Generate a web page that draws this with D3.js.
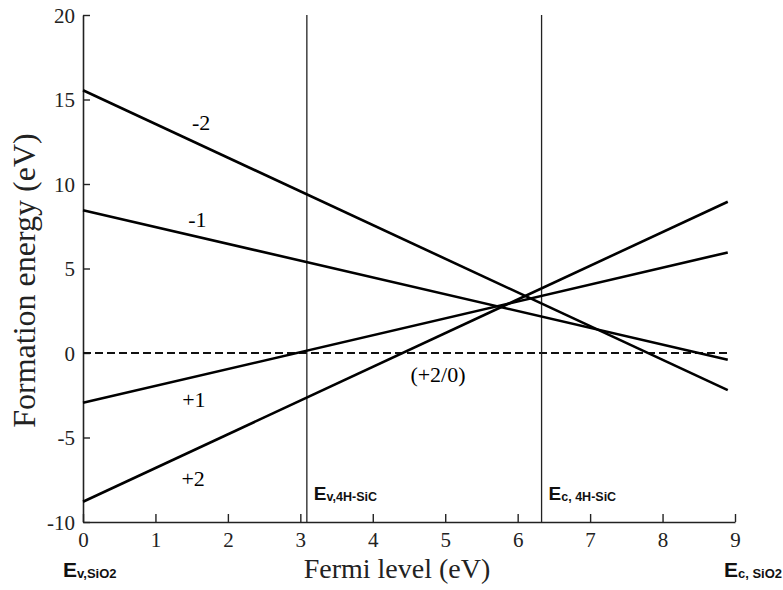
<!DOCTYPE html>
<html>
<head>
<meta charset="utf-8">
<script src="https://cdn.jsdelivr.net/npm/d3@7"></script>
<style>
  body { margin: 0; background: #fff; }
  svg { display: block; }
</style>
</head>
<body>
<div id="chart"></div>
<script>
const SERIF = '"Liberation Serif", "Times New Roman", serif';
const SANS = '"Liberation Sans", Arial, sans-serif';

// Fermi level range of the lines (Ev,SiO2 .. Ec,SiO2)
const fermiEnds = [0, 8.9];
// charge states and formation energy at the two ends
const chargeLabels = ['-2', '-1', '+1', '+2'];
const energyStart = [15.55, 8.45, -2.95, -8.8];
const energyEnd = [-2.2, -0.4, 5.95, 8.95];
// where the charge labels sit (Fermi level, energy)
const labelX = [1.63, 1.58, 1.53, 1.52];
const labelY = [13.2, 7.45, -3.2, -7.87];

// 4H-SiC band edges
const edgeX = [3.09, 6.33];
const edgeMain = ['E', 'E'];
const edgeSub = ['v,4H-SiC', 'c, 4H-SiC'];

const xTicks = [0, 1, 2, 3, 4, 5, 6, 7, 8, 9];
const yTicks = [-10, -5, 0, 5, 10, 15, 20];

const W = 783, H = 590;
const margin = { top: 15, right: 48, bottom: 68, left: 83 };
const width = W - margin.left - margin.right;
const height = H - margin.top - margin.bottom;

const svg = d3.select('#chart').append('svg')
  .attr('width', W)
  .attr('height', H);

const g = svg.append('g')
  .attr('transform', `translate(${margin.left},${margin.top})`);

const x = d3.scaleLinear().domain([0, 9]).range([0, width]);
const y = d3.scaleLinear().domain([-10, 20]).range([height, 0]);

// axes with inward ticks, plain hyphen minus like the original
const xAxis = g.append('g')
  .attr('transform', `translate(0,${height})`)
  .call(d3.axisBottom(x).tickValues(xTicks).tickFormat(d => String(d)).tickSizeInner(-8).tickSizeOuter(0));
const yAxis = g.append('g')
  .call(d3.axisLeft(y).tickValues(yTicks).tickFormat(d => String(d)).tickSizeInner(-7).tickSizeOuter(0).tickPadding(8));

[xAxis, yAxis].forEach(a => {
  a.attr('font-family', null).attr('font-size', null);
  a.select('.domain').attr('stroke', '#222').attr('stroke-width', 1.6);
  a.selectAll('.tick line').attr('stroke', '#222').attr('stroke-width', 1.4);
  a.selectAll('.tick text')
    .style('font-family', SERIF)
    .style('font-size', '21px')
    .attr('fill', '#222');
});
xAxis.selectAll('.tick text').attr('y', 25).attr('dy', 0);
yAxis.selectAll('.tick text').attr('dy', '0.35em');

// zero line
g.append('line')
  .attr('x1', x(fermiEnds[0])).attr('x2', x(fermiEnds[1]))
  .attr('y1', y(0)).attr('y2', y(0))
  .attr('stroke', '#111')
  .attr('stroke-width', 2.2)
  .attr('stroke-dasharray', '8,4');

// band edge vertical lines
g.selectAll('.edge')
  .data(edgeX)
  .enter().append('line')
  .attr('x1', d => x(d)).attr('x2', d => x(d))
  .attr('y1', y(20)).attr('y2', y(-10))
  .attr('stroke', '#222')
  .attr('stroke-width', 1.3);

// formation energy lines
const line = d3.line().x(d => x(d[0])).y(d => y(d[1]));
g.selectAll('.charge')
  .data(chargeLabels.map((c, i) => [[fermiEnds[0], energyStart[i]], [fermiEnds[1], energyEnd[i]]]))
  .enter().append('path')
  .attr('d', line)
  .attr('fill', 'none')
  .attr('stroke', '#000')
  .attr('stroke-width', 2.6);

// charge labels
g.selectAll('.clabel')
  .data(chargeLabels)
  .enter().append('text')
  .attr('x', (d, i) => x(labelX[i]))
  .attr('y', (d, i) => y(labelY[i]))
  .attr('text-anchor', 'middle')
  .style('font-family', SERIF)
  .style('font-size', '22px')
  .text(d => d);

g.append('text')
  .attr('x', x(4.9))
  .attr('y', y(-1.72))
  .attr('text-anchor', 'middle')
  .style('font-family', SERIF)
  .style('font-size', '22px')
  .text('(+2/0)');

// band edge labels
edgeX.forEach((ex, i) => {
  const t = g.append('text')
    .attr('x', x(ex) + 7)
    .attr('y', y(-8.7))
    .style('font-family', SANS)
    .style('font-weight', 'bold')
    .attr('fill', '#111');
  t.append('tspan').style('font-size', '19px').text(edgeMain[i]);
  t.append('tspan').style('font-size', '12.5px').attr('dy', 1).text(edgeSub[i]);
});

const sio2 = [
  { x: x(0) - 20, anchor: 'start', sub: 'v,SiO2' },
  { x: W - margin.left - 1, anchor: 'end', sub: 'c, SiO2' }
];
sio2.forEach(s => {
  const t = g.append('text')
    .attr('x', s.x)
    .attr('y', height + 55)
    .attr('text-anchor', s.anchor)
    .style('font-family', SANS)
    .style('font-weight', 'bold')
    .attr('fill', '#111');
  t.append('tspan').style('font-size', '21px').text('E');
  t.append('tspan').style('font-size', '13px').attr('dy', 1).text(s.sub);
});

// axis titles
g.append('text')
  .attr('x', x(4.5) - 12)
  .attr('y', height + 56)
  .attr('text-anchor', 'middle')
  .style('font-family', SERIF)
  .style('font-size', '28px')
  .attr('fill', '#222')
  .text('Fermi level (eV)');

g.append('text')
  .attr('transform', `translate(${-48},${height / 2 + 12}) rotate(-90)`)
  .attr('text-anchor', 'middle')
  .style('font-family', SERIF)
  .style('font-size', '32px')
  .attr('fill', '#222')
  .text('Formation energy (eV)');
</script>
</body>
</html>
